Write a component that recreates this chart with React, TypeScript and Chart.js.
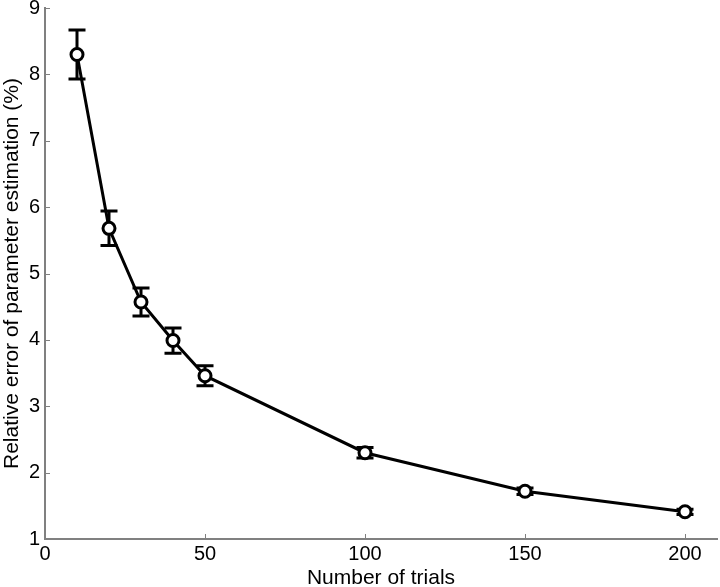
import React, { useEffect, useRef } from "react";
import { Chart, registerables } from "chart.js";

Chart.register(...registerables);

const trials = [10, 20, 30, 40, 50, 100, 150, 200];
const relError = [8.3, 5.68, 4.57, 3.99, 3.46, 2.3, 1.72, 1.41];
const errBar = [0.37, 0.26, 0.21, 0.19, 0.15, 0.08, 0.05, 0.04];
const xTicks = [0, 50, 100, 150, 200];
const yTicks = [1, 2, 3, 4, 5, 6, 7, 8, 9];

const FONT = "'Liberation Sans', Arial, Helvetica, sans-serif";

const errorBarPlugin = {
  id: "errorBars",
  beforeDatasetsDraw(chart: any) {
    const { ctx, scales } = chart;
    const xs = scales.x;
    const ys = scales.y;
    ctx.save();
    ctx.strokeStyle = "#000";
    ctx.lineWidth = 3;
    trials.forEach((t, i) => {
      const px = xs.getPixelForValue(t);
      const top = ys.getPixelForValue(relError[i] + errBar[i]);
      const bot = ys.getPixelForValue(relError[i] - errBar[i]);
      const cap = 8.5;
      ctx.beginPath();
      ctx.moveTo(px, top);
      ctx.lineTo(px, bot);
      ctx.moveTo(px - cap, top);
      ctx.lineTo(px + cap, top);
      ctx.moveTo(px - cap, bot);
      ctx.lineTo(px + cap, bot);
      ctx.stroke();
    });
    ctx.restore();
  },
  afterDraw(chart: any) {
    const { ctx, scales, chartArea } = chart;
    ctx.save();
    ctx.strokeStyle = "#808080";
    ctx.lineWidth = 1;
    const len = 5;
    xTicks.forEach((v) => {
      if (v === 0) return;
      const px = Math.round(scales.x.getPixelForValue(v)) + 0.5;
      ctx.beginPath();
      ctx.moveTo(px, chartArea.bottom);
      ctx.lineTo(px, chartArea.bottom - len);
      ctx.stroke();
    });
    yTicks.forEach((v) => {
      if (v === 1) return;
      const py = Math.round(scales.y.getPixelForValue(v)) + 0.5;
      ctx.beginPath();
      ctx.moveTo(chartArea.left, py);
      ctx.lineTo(chartArea.left + len, py);
      ctx.stroke();
    });
    ctx.restore();
  },
};

export default function App() {
  const ref = useRef<HTMLCanvasElement | null>(null);
  useEffect(() => {
    if (!ref.current) return;
    const chart = new Chart(ref.current, {
      type: "line",
      data: {
        datasets: [
          {
            data: trials.map((t, i) => ({ x: t, y: relError[i] })),
            borderColor: "#000",
            borderWidth: 3,
            pointRadius: 6,
            pointBorderWidth: 3,
            pointBackgroundColor: "#fff",
            pointBorderColor: "#000",
            tension: 0,
            clip: false,
          },
        ],
      },
      options: {
        animation: false,
        responsive: false,
        maintainAspectRatio: false,
        layout: { autoPadding: false, padding: { left: 0, right: 3, top: 8, bottom: 0 } },
        plugins: { legend: { display: false }, tooltip: { enabled: false } },
        scales: {
          x: {
            type: "linear",
            min: 0,
            max: 210,
            afterBuildTicks: (s: any) => {
              s.ticks = xTicks.map((v) => ({ value: v }));
            },
            afterFit: (s: any) => {
              s.height = 48;
              s.paddingRight = 0;
              s.paddingLeft = 0;
            },
            grid: { display: false, drawOnChartArea: false, drawTicks: false },
            border: { display: true, color: "#808080", width: 2 },
            ticks: {
              color: "#000",
              font: { family: FONT, size: 20 },
              padding: 3,
              maxRotation: 0,
              autoSkip: false,
            },
            title: {
              display: true,
              text: "Number of trials",
              color: "#000",
              font: { family: FONT, size: 21, lineHeight: 0.85 },
              padding: { top: 0, bottom: 0 },
            },
          },
          y: {
            type: "linear",
            min: 1,
            max: 9,
            afterBuildTicks: (s: any) => {
              s.ticks = yTicks.map((v) => ({ value: v }));
            },
            afterFit: (s: any) => {
              s.width = 45;
              s.paddingTop = 0;
              s.paddingBottom = 0;
            },
            grid: { display: false, drawOnChartArea: false, drawTicks: false },
            border: { display: true, color: "#808080", width: 2 },
            ticks: {
              color: "#000",
              font: { family: FONT, size: 20 },
              padding: 5,
              autoSkip: false,
            },
            title: {
              display: true,
              text: "Relative error of parameter estimation (%)",
              color: "#000",
              font: { family: FONT, size: 21 },
              padding: { top: 0, bottom: 0 },
            },
          },
        },
      },
      plugins: [errorBarPlugin],
    });
    return () => chart.destroy();
  }, []);
  return (
    <div style={{ position: "fixed", left: 0, top: 0, width: 720, height: 587, background: "#fff" }}>
      <canvas ref={ref} width={720} height={587} style={{ display: "block" }} />
    </div>
  );
}
